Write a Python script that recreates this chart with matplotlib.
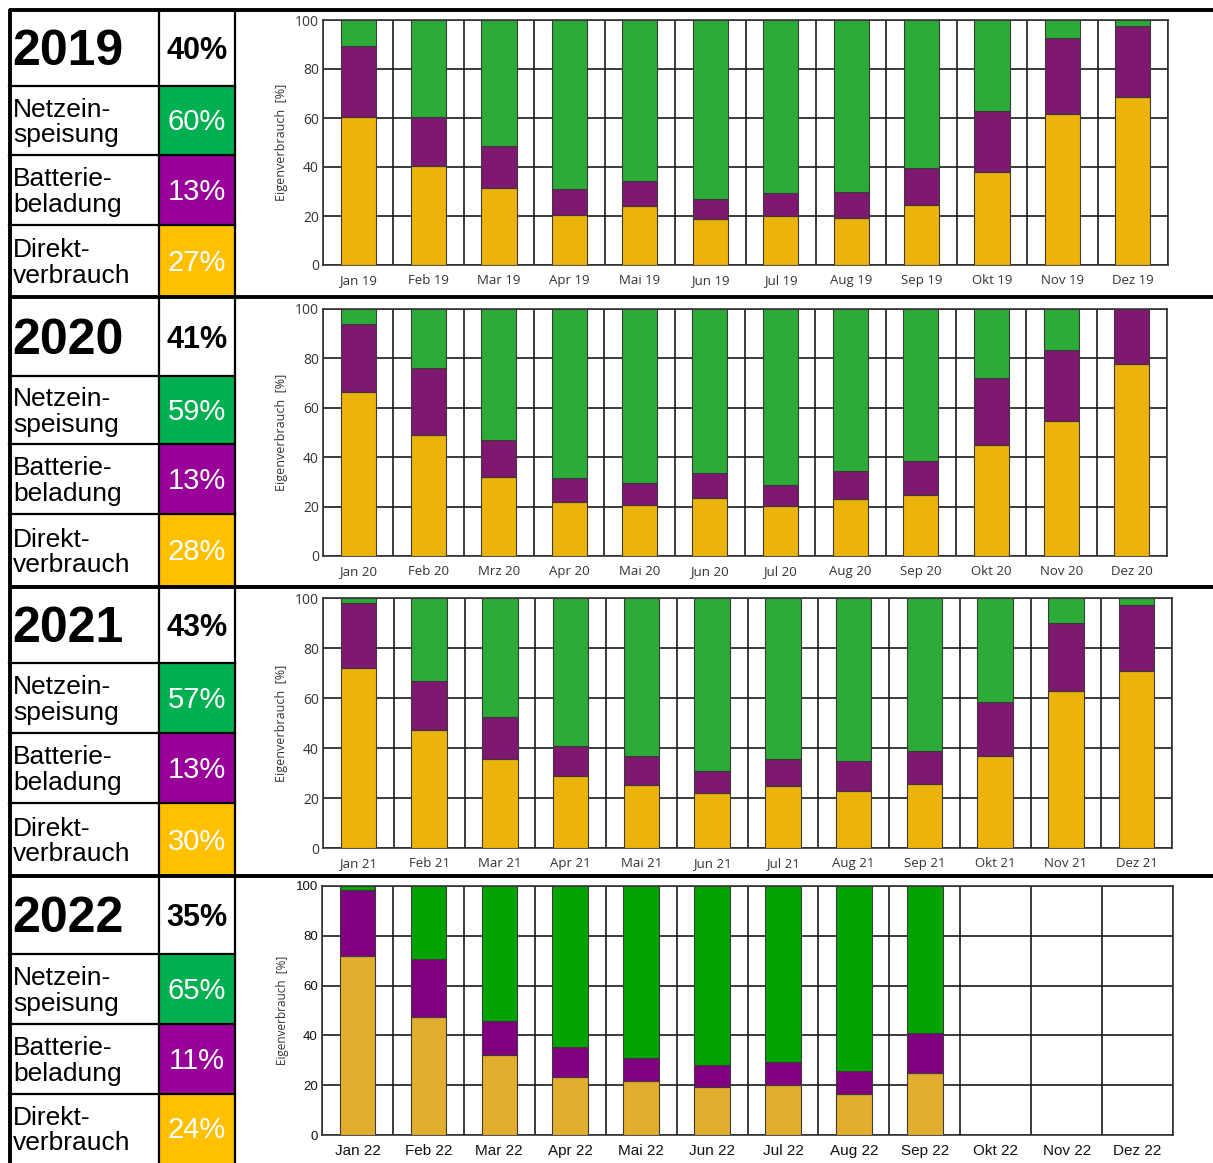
import numpy as np
import matplotlib
matplotlib.use("Agg")
from matplotlib import pyplot as plt
from matplotlib.patches import Rectangle

# Monthly shares of PV production [%]: direct use, battery charging, grid feed-in
months = ["Jan", "Feb", "Mar", "Apr", "Mai", "Jun", "Jul", "Aug", "Sep", "Okt", "Nov", "Dez"]
months_2020 = ["Jan", "Feb", "Mrz", "Apr", "Mai", "Jun", "Jul", "Aug", "Sep", "Okt", "Nov", "Dez"]

direkt_2019 = [60.3, 40.4, 31.6, 20.4, 24.1, 18.8, 20.0, 19.0, 24.4, 37.8, 61.8, 68.7]
batterie_2019 = [29.0, 20.1, 17.0, 10.7, 10.3, 8.1, 9.3, 11.0, 15.1, 25.2, 30.7, 28.8]
netz_2019 = [10.7, 39.5, 51.4, 68.9, 65.6, 73.1, 70.7, 70.0, 60.5, 37.0, 7.5, 2.5]

direkt_2020 = [66.5, 48.9, 31.8, 21.9, 20.6, 23.3, 20.3, 23.0, 24.7, 44.8, 54.5, 77.7]
batterie_2020 = [27.5, 27.3, 15.0, 9.7, 9.1, 10.2, 8.6, 11.5, 13.6, 27.1, 28.9, 22.3]
netz_2020 = [6.0, 23.8, 53.2, 68.4, 70.3, 66.5, 71.1, 65.5, 61.7, 28.1, 16.6, 0.0]

direkt_2021 = [72.2, 47.1, 35.7, 28.9, 25.4, 22.2, 25.0, 22.9, 25.7, 36.8, 63.0, 70.9]
batterie_2021 = [25.8, 19.8, 16.7, 11.9, 11.4, 8.8, 10.6, 12.0, 13.2, 21.5, 27.0, 26.3]
netz_2021 = [2.0, 33.1, 47.6, 59.2, 63.2, 69.0, 64.4, 65.1, 61.1, 41.7, 10.0, 2.8]

# 2022 only up to September
direkt_2022 = [71.9, 47.2, 32.1, 23.1, 21.5, 19.4, 20.1, 16.3, 25.1]
batterie_2022 = [26.3, 23.3, 13.6, 12.2, 9.5, 8.7, 9.3, 9.6, 15.9]
netz_2022 = [1.8, 29.5, 54.3, 64.7, 69.0, 71.9, 70.6, 74.1, 59.0]

years = ["2019", "2020", "2021", "2022"]
total_pct = ["40%", "41%", "43%", "35%"]
netz_pct = ["60%", "59%", "57%", "65%"]
batterie_pct = ["13%", "13%", "13%", "11%"]
direkt_pct = ["27%", "28%", "30%", "24%"]

W, H = 1213, 1163
fig = plt.figure(figsize=(W / 100, H / 100), dpi=100)

# Background axes in pixel coordinates for the table part
bg = fig.add_axes([0, 0, 1, 1])
bg.set_xlim(0, W)
bg.set_ylim(H, 0)
bg.axis("off")

table_font = "Liberation Sans"
cell_green = "#00b050"
cell_purple = "#990099"
cell_yellow = "#ffc000"

# band rows: top, row1, row2, row3, bottom
bands = [
    (10, 86, 155, 225, 297),
    (297, 376, 444, 514, 587),
    (587, 663, 733, 803, 876),
    (876, 954, 1024, 1094, 1163),
]

for i, (y0, y1, y2, y3, y4) in enumerate(bands):
    # coloured cells
    bg.add_patch(Rectangle((159, y1), 76, y2 - y1, color=cell_green, lw=0))
    bg.add_patch(Rectangle((159, y2), 76, y3 - y2, color=cell_purple, lw=0))
    bg.add_patch(Rectangle((159, y3), 76, y4 - y3, color=cell_yellow, lw=0))
    # row lines
    for yy in (y1, y2, y3):
        bg.plot([9, 235], [yy, yy], color="black", lw=1.6)
    # column lines
    bg.plot([159, 159], [y0, y4], color="black", lw=1.6)
    bg.plot([235, 235], [y0, y4], color="black", lw=1.6)
    # thick band separator
    bg.plot([9, W], [y0, y0], color="black", lw=2.8, solid_capstyle="butt")

    bg.text(12, (y0 + y1) / 2 + 4, years[i], fontsize=36, fontweight="bold",
            family=table_font, va="center", ha="left")
    bg.text(197, (y0 + y1) / 2 + 3, total_pct[i], fontsize=22, fontweight="bold",
            family=table_font, va="center", ha="center")
    labels = ["Netzein-\nspeisung", "Batterie-\nbeladung", "Direkt-\nverbrauch"]
    pcts = [netz_pct[i], batterie_pct[i], direkt_pct[i]]
    for (ya, yb), lab, p in zip([(y1, y2), (y2, y3), (y3, y4)], labels, pcts):
        bg.text(13, (ya + yb) / 2 + 2, lab, fontsize=19, family=table_font,
                va="center", ha="left", linespacing=1.08)
        bg.text(197, (ya + yb) / 2 + 2, p, fontsize=21, family=table_font,
                va="center", ha="center", color="white")

bg.plot([10, 10], [9, H], color="black", lw=2.8, solid_capstyle="butt")

# chart placement in pixels: left, right, top, bottom
chart_boxes = [
    (323, 1168, 20, 265),
    (323, 1167, 309, 556),
    (323, 1172, 598, 848),
    (322, 1173, 886, 1135),
]

data = [
    (direkt_2019, batterie_2019, netz_2019, months, "19"),
    (direkt_2020, batterie_2020, netz_2020, months_2020, "20"),
    (direkt_2021, batterie_2021, netz_2021, months, "21"),
    (direkt_2022, batterie_2022, netz_2022, months, "22"),
]

for i, ((l, r, t, b), (d, bat, nz, mlabels, yy)) in enumerate(zip(chart_boxes, data)):
    ax = fig.add_axes([l / W, 1 - b / H, (r - l) / W, (b - t) / H])
    if i < 3:
        c_dir, c_bat, c_net = "#ecb30a", "#7f186f", "#2cab38"
        tick_font, tick_size, ytick_size = "Open Sans", 9.5, 10
        lab_size = 9
        tick_col = "#333333"
        xpad = 13.5
    else:
        c_dir, c_bat, c_net = "#e3ae30", "#800080", "#00a300"
        tick_font, tick_size, ytick_size = "Liberation Sans", 11, 9.5
        lab_size = 8.5
        tick_col = "#111111"
        xpad = 14.5

    x = np.arange(len(d))
    d = np.array(d)
    bat = np.array(bat)
    nz = np.array(nz)
    ax.bar(x, d, width=0.5, color=c_dir, edgecolor="#3a3a3a", lw=0.8, zorder=3)
    ax.bar(x, bat, width=0.5, bottom=d, color=c_bat, edgecolor="#3a3a3a", lw=0.8, zorder=3)
    ax.bar(x, nz, width=0.5, bottom=d + bat, color=c_net, edgecolor="#3a3a3a", lw=0.8, zorder=3)

    ax.set_xlim(-0.5, 11.5)
    ax.set_ylim(0, 100)
    ax.set_yticks(np.arange(0, 101, 20))
    ax.set_xticks(np.arange(12))
    ax.set_xticklabels([m + " " + yy for m in mlabels], family=tick_font,
                       fontsize=tick_size, color=tick_col, va="baseline")
    for lbl in ax.get_yticklabels():
        lbl.set_family(tick_font)
        lbl.set_fontsize(ytick_size)
        lbl.set_color(tick_col)
    ax.set_xticks(np.arange(-0.5, 12, 1), minor=True)
    ax.set_axisbelow(True)
    ax.yaxis.grid(True, color="#1a1a1a", lw=1.2, zorder=0)
    ax.xaxis.grid(True, which="minor", color="#1a1a1a", lw=1.2, zorder=0)
    ax.tick_params(which="both", length=0)
    ax.tick_params(axis="x", pad=xpad)
    ax.tick_params(axis="y", pad=3)
    for s in ax.spines.values():
        s.set_color("#333333")
        s.set_linewidth(1.2)
    ax.set_ylabel("Eigenverbrauch  [%]", family="Open Sans", fontsize=lab_size,
                  color="#333333", labelpad=5)

fig.savefig("out.png", dpi=100)
